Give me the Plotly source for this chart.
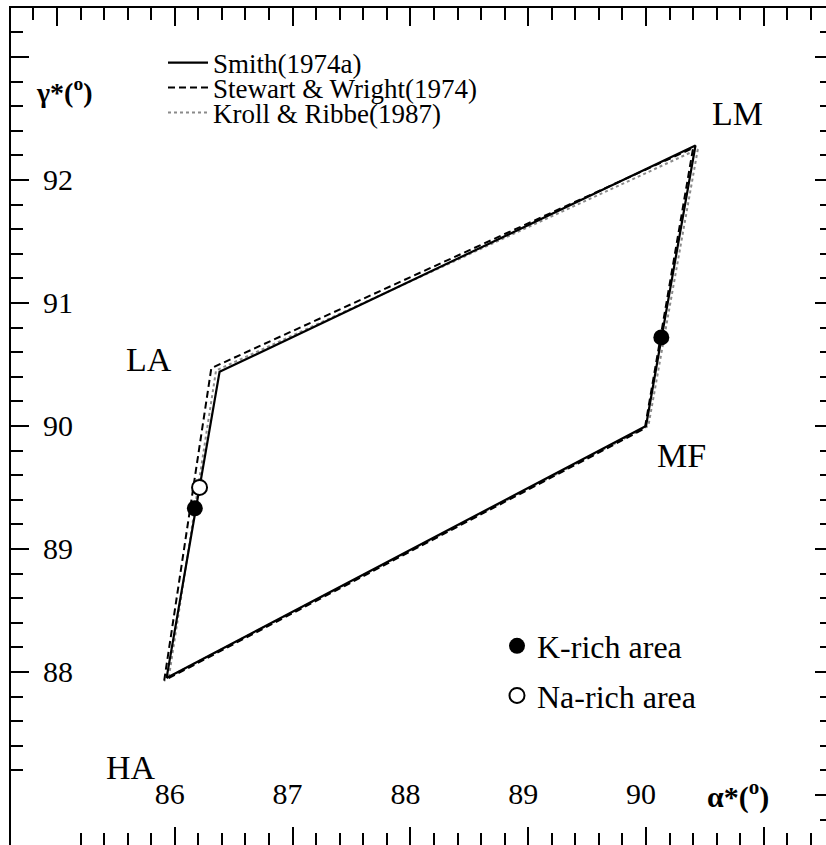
import plotly.graph_objects as go

# ---------------- data ----------------
# polygon vertices in order HA -> LA -> LM -> MF -> HA
smith_alpha = [85.93, 86.38, 90.42, 90.00, 85.93]
smith_gamma = [87.95, 90.44, 92.28, 90.00, 87.95]
sw_alpha = [85.91, 86.31, 90.40, 89.99, 85.91]
sw_gamma = [87.93, 90.47, 92.26, 89.98, 87.93]
kr_alpha = [85.95, 86.35, 90.44, 90.02, 85.95]
kr_gamma = [87.96, 90.45, 92.25, 90.00, 87.96]

k_alpha = [86.17, 90.13]
k_gamma = [89.33, 90.72]
na_alpha = [86.21]
na_gamma = [89.50]

x_tickvals = [85, 86, 87, 88, 89, 90, 91]
x_ticktext = ["", "86", "87", "88", "89", "90", ""]
y_tickvals = [87, 88, 89, 90, 91, 92, 93]
y_ticktext = ["", "88", "89", "90", "91", "92", ""]

vertex_labels = ["LM", "LA", "MF", "HA"]

# ---------------- layout constants ----------------
W, H = 826, 845
ML, MT = 11, 8
X_RANGE = [84.6095, 91.528]
Y_RANGE = [86.593, 93.398]
FONT = "Liberation Serif, Times New Roman, serif"


def pxx(px):
    return (px - ML) / (W - ML)


def pxy(py):
    return (H - py) / (H - MT)


fig = go.Figure()

fig.add_trace(go.Scatter(x=kr_alpha, y=kr_gamma, mode="lines",
                         line=dict(color="#8a8a8a", width=2, dash="dot"),
                         name="Kroll & Ribbe(1987)", legend="legend3"))
fig.add_trace(go.Scatter(x=sw_alpha, y=sw_gamma, mode="lines",
                         line=dict(color="black", width=2, dash="7px,4px"),
                         name="Stewart & Wright(1974)", legend="legend2"))
fig.add_trace(go.Scatter(x=smith_alpha, y=smith_gamma, mode="lines",
                         line=dict(color="black", width=2.2),
                         name="Smith(1974a)", legend="legend"))
fig.add_trace(go.Scatter(x=k_alpha, y=k_gamma, mode="markers",
                         marker=dict(symbol="circle", size=16, color="black"),
                         name="K-rich area", legend="legend4", legendgroup="k"))
fig.add_trace(go.Scatter(x=na_alpha, y=na_gamma, mode="markers",
                         marker=dict(symbol="circle", size=15, color="white",
                                     line=dict(color="black", width=2)),
                         name="Na-rich area", legend="legend4", legendgroup="na"))
# empty trace to activate the mirrored (top/right) axes
fig.add_trace(go.Scatter(x=[], y=[], xaxis="x2", yaxis="y2", showlegend=False))

tick_common = dict(ticks="inside", tickcolor="black", showgrid=False, zeroline=False)
line_leg = dict(xanchor="left", yanchor="middle", bgcolor="rgba(0,0,0,0)",
                font=dict(size=27, family=FONT, color="black"), itemwidth=40)

fig.update_layout(
    width=W, height=H,
    margin=dict(l=ML, r=0, t=MT, b=0, pad=0),
    paper_bgcolor="white", plot_bgcolor="white",
    font=dict(family=FONT, color="black"),
    xaxis=dict(range=X_RANGE, tickvals=x_tickvals, ticktext=x_ticktext,
               ticklen=18, tickwidth=2, showline=False,
               ticklabelposition="inside", ticklabelstandoff=20, ticklabelshift=-5,
               tickfont=dict(size=30, family=FONT, color="black"),
               minor=dict(dtick=0.2, tick0=85, ticks="inside", ticklen=12,
                          tickwidth=1.5, tickcolor="black"),
               **tick_common),
    yaxis=dict(range=Y_RANGE, tickvals=y_tickvals, ticktext=y_ticktext,
               ticklen=18, tickwidth=2, showline=True, linecolor="black", linewidth=2,
               ticklabelposition="inside", ticklabelstandoff=17,
               tickfont=dict(size=30, family=FONT, color="black"),
               minor=dict(dtick=0.2, tick0=87, ticks="inside", ticklen=12,
                          tickwidth=1.5, tickcolor="black"),
               **tick_common),
    xaxis2=dict(range=X_RANGE, overlaying="x", side="top", anchor="y2",
                tickvals=x_tickvals, showticklabels=False,
                ticklen=18, tickwidth=2, showline=True, linecolor="black", linewidth=2,
                minor=dict(dtick=0.2, tick0=85, ticks="inside", ticklen=12,
                           tickwidth=1.5, tickcolor="black"),
                **tick_common),
    yaxis2=dict(range=Y_RANGE, overlaying="y", side="right", anchor="x2",
                tickvals=y_tickvals, showticklabels=False,
                ticklen=11, tickwidth=2, showline=False,
                minor=dict(dtick=0.2, tick0=87, ticks="inside", ticklen=6,
                           tickwidth=1.5, tickcolor="black"),
                **tick_common),
    showlegend=True,
    legend=dict(x=pxx(163), y=pxy(63), **line_leg),
    legend2=dict(x=pxx(163), y=pxy(88), **line_leg),
    legend3=dict(x=pxx(163), y=pxy(113), **line_leg),
    legend4=dict(x=pxx(497), y=pxy(671), xanchor="left", yanchor="middle",
                 font=dict(size=32, family=FONT, color="black"), bgcolor="rgba(0,0,0,0)",
                 tracegroupgap=5, itemwidth=30),
)

# vertex names and axis titles as text annotations
label_alpha = [90.78, 85.78, 90.30, 85.63]
label_gamma = [92.54, 90.54, 89.76, 87.22]
for t, a, g in zip(vertex_labels, label_alpha, label_gamma):
    fig.add_annotation(x=a, y=g, text=t, showarrow=False,
                       font=dict(size=34, family=FONT, color="black"))

fig.add_annotation(x=85.06, y=92.73, text="<b>γ*(<sup>o</sup>)</b>", showarrow=False,
                   font=dict(size=28, family=FONT, color="black"))
fig.add_annotation(x=90.78, y=87.0, text="<b>α*(<sup>o</sup>)</b>", showarrow=False,
                   font=dict(size=30, family=FONT, color="black"))

fig.write_html("out.html", config={"displayModeBar": False},
               post_script="document.body.style.margin='0';document.body.style.overflow='hidden';")
